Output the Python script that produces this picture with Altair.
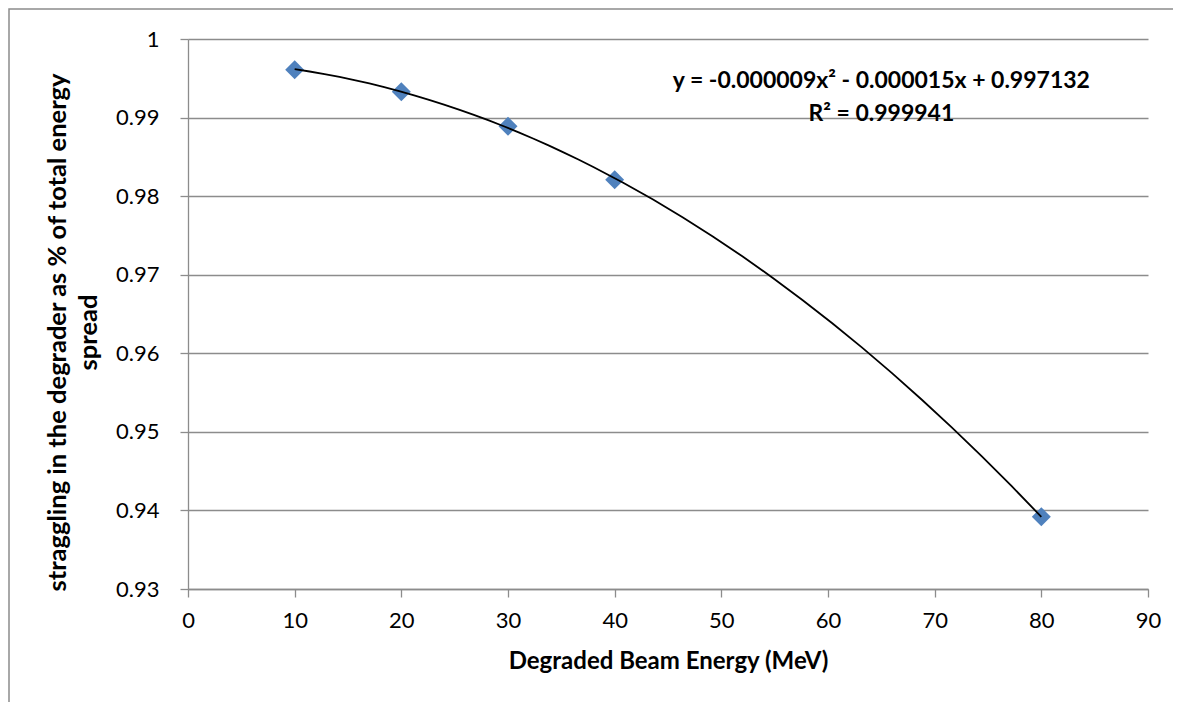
import altair as alt
import pandas as pd

# Data
energy = [10, 20, 30, 40, 80]
straggling = [0.9961, 0.9933, 0.9889, 0.9821, 0.9392]

x_ticks = [0, 10, 20, 30, 40, 50, 60, 70, 80, 90]
y_ticks = [0.93, 0.94, 0.95, 0.96, 0.97, 0.98, 0.99, 1.0]

note_text = ["y = -0.000009x² - 0.000015x + 0.997132", "R² = 0.999941"]
note_x = [65, 65]
note_y = [0.9947, 0.9904]

FONT = "Lato"
GRID = "#8c8c8c"

df = pd.DataFrame({"x": energy, "y": straggling})
notes = pd.DataFrame({"t": note_text, "x": note_x, "y": note_y})

xscale = alt.Scale(domain=[0, 90], nice=False, zero=False)
yscale = alt.Scale(domain=[0.93, 1.0], nice=False, zero=False)

xaxis = alt.Axis(
    values=x_ticks, title="Degraded Beam Energy (MeV)", grid=False,
    domainColor=GRID, domainWidth=1.3, tickColor=GRID, tickWidth=1.3, tickSize=8,
    labelFont=FONT, labelFontSize=22, labelColor="#000000", labelPadding=13,
    titleFont=FONT, titleFontSize=24, titleFontWeight="bold", titleColor="#000000",
    titlePadding=18, labelFlush=False,
)
yaxis = alt.Axis(
    values=y_ticks, title=["straggling in the degrader as % of total energy", "spread"],
    format="~g", grid=True, gridColor=GRID, gridWidth=1.3,
    domainColor=GRID, domainWidth=1.3, tickColor=GRID, tickWidth=1.3, tickSize=8,
    labelFont=FONT, labelFontSize=22, labelColor="#000000", labelPadding=21,
    titleFont=FONT, titleFontSize=25.5, titleFontWeight="bold", titleColor="#000000",
    titleLineHeight=31, titleX=-118, titleY=293, titleBaseline="bottom", titleAlign="center",
    titleAngle=270, labelFlush=False,
)

frame = alt.Chart(pd.DataFrame({"a": [0]})).mark_rect(
    fill=None, stroke="#8c8c8c", strokeWidth=1.5, clip=False
).encode(
    x=alt.value(-179), x2=alt.value(1040), y=alt.value(-30), y2=alt.value(720)
)

points = alt.Chart(df).mark_point(
    shape="diamond", filled=True, size=360, color="#4F81BD", opacity=1
).encode(
    x=alt.X("x:Q", scale=xscale, axis=xaxis),
    y=alt.Y("y:Q", scale=yscale, axis=yaxis),
)

trend = alt.Chart(df).transform_regression(
    "x", "y", method="poly", order=2
).mark_line(color="#000000", strokeWidth=1.8).encode(
    x=alt.X("x:Q", scale=xscale),
    y=alt.Y("y:Q", scale=yscale),
)

note = alt.Chart(notes).mark_text(
    font=FONT, fontSize=23, fontWeight="bold", color="#000000", align="center", baseline="middle"
).encode(
    x=alt.X("x:Q", scale=xscale),
    y=alt.Y("y:Q", scale=yscale),
    text="t:N",
)

chart = alt.layer(frame, points, trend, note).properties(
    width=960, height=550,
    autosize=alt.AutoSizeParams(type="none"),
    padding={"left": 180, "top": 31, "right": 25, "bottom": 113},
    background="#ffffff",
).configure_view(stroke=None)

chart.save("out.html", embed_options={"renderer": "svg", "actions": False})
